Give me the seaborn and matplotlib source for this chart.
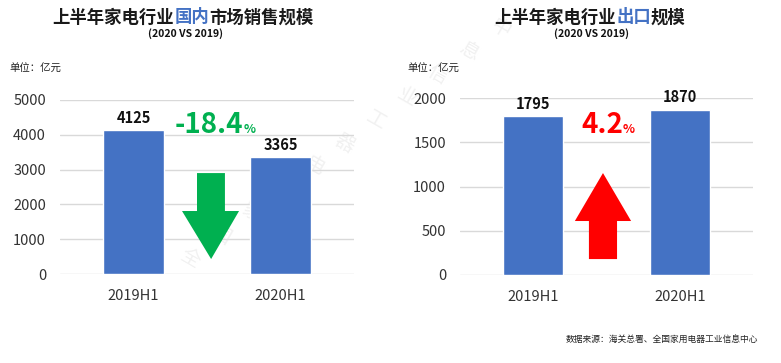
import matplotlib
matplotlib.use('Agg')
import matplotlib.pyplot as plt
import seaborn as sns
import pandas as pd
from matplotlib.patches import Polygon

# ---- data ----
periods = ['2019H1', '2020H1']
domestic_sales = [4125, 3365]
export_sales = [1795, 1870]
domestic_change = '-18.4'
export_change = '4.2'
left_ticks = [0, 1000, 2000, 3000, 4000, 5000]
right_ticks = [0, 500, 1000, 1500, 2000]

title_left = [('上半年家电行业', 'k'), ('国内', '#4472C4'), ('市场销售规模', 'k')]
title_right = [('上半年家电行业', 'k'), ('出口', '#4472C4'), ('规模', 'k')]
subtitle = '(2020 VS 2019)'
unit_text = '单位：亿元'
source_text = '数据来源：海关总署、全国家用电器工业信息中心'
watermark = '全国家用电器工业信息中'

BAR = '#4472C4'
GREEN = '#00B050'
RED = '#FF0000'

sns.set_theme(style='white')
plt.rcParams['font.family'] = ['Noto Sans CJK SC', 'DejaVu Sans']

W, H = 781, 363
fig = plt.figure(figsize=(W / 100, H / 100), dpi=100)
fig.patch.set_facecolor('white')


def fx(px):
    return px / W


def fy(py):
    return 1 - py / H


ax1 = fig.add_axes([fx(60), fy(274), 294 / W, 174 / H])
ax2 = fig.add_axes([fx(460), fy(275), 293 / W, 177 / H])

df1 = pd.DataFrame({'period': periods, 'value': domestic_sales})
df2 = pd.DataFrame({'period': periods, 'value': export_sales})

for ax, df, ticks in [(ax1, df1, left_ticks), (ax2, df2, right_ticks)]:
    ax.set_facecolor('none')
    sns.barplot(data=df, x='period', y='value', color=BAR, width=0.41,
                saturation=1, ax=ax, zorder=3)
    ax.set_xlim(-0.5, 1.5)
    ax.set_ylim(0, ticks[-1])
    ax.set_yticks(ticks)
    ax.yaxis.grid(True, color='#D9D9D9', linewidth=1.0, zorder=0)
    ax.set_axisbelow(True)
    for s in ax.spines.values():
        s.set_visible(False)
    ax.set_xlabel('')
    ax.set_ylabel('')
    ax.tick_params(axis='y', length=0, pad=10, labelsize=10.5, labelcolor='#333333')
    ax.tick_params(axis='x', length=0, pad=11, labelsize=10.5, labelcolor='#333333')
    for c in ax.containers:
        ax.bar_label(c, fmt='%d', padding=3, fontsize=10.5, fontweight='bold',
                     color='#111111')
    for t in ax.texts:
        t.set_clip_on(False)

# ---- arrows ----
down = [(0.466, 0.580), (0.561, 0.580), (0.561, 0.362), (0.609, 0.362),
        (0.514, 0.086), (0.415, 0.362), (0.466, 0.362)]
ax1.add_patch(Polygon(down, closed=True, transform=ax1.transAxes,
                      facecolor=GREEN, edgecolor='none', zorder=4))
up = [(0.440, 0.090), (0.536, 0.090), (0.536, 0.305), (0.584, 0.305),
      (0.488, 0.576), (0.392, 0.305), (0.440, 0.305)]
ax2.add_patch(Polygon(up, closed=True, transform=ax2.transAxes,
                      facecolor=RED, edgecolor='none', zorder=4))

fig.canvas.draw()
renderer = fig.canvas.get_renderer()


def draw_pieces(pieces, x_px, y_px, va='baseline', center=False):
    widths = []
    for txt, props in pieces:
        t = fig.text(0, 0, txt, **props)
        bb = t.get_window_extent(renderer)
        widths.append(bb.width)
        t.remove()
    total = sum(widths)
    x = x_px - total / 2 if center else x_px
    for (txt, props), w in zip(pieces, widths):
        fig.text(fx(x), fy(y_px), txt, ha='left', va=va, **props)
        x += w


# titles
draw_pieces([(t, dict(color=c, fontsize=12.5, fontweight='bold')) for t, c in title_left],
            183, 17.5, va='center', center=True)
draw_pieces([(t, dict(color=c, fontsize=12.5, fontweight='bold')) for t, c in title_right],
            590, 17.5, va='center', center=True)
fig.text(fx(185), fy(33.5), subtitle, ha='center', va='center', fontsize=7.5,
         fontweight='bold', color='#111111')
fig.text(fx(592), fy(33.5), subtitle, ha='center', va='center', fontsize=7.5,
         fontweight='bold', color='#111111')
fig.text(fx(9), fy(69), unit_text, ha='left', va='center', fontsize=7.5, color='#222222')
fig.text(fx(407), fy(69), unit_text, ha='left', va='center', fontsize=7.5, color='#222222')

# percentage changes
draw_pieces([(domestic_change, dict(color=GREEN, fontsize=20, fontweight='bold')),
             ('%', dict(color=GREEN, fontsize=9, fontweight='bold'))], 175, 133)
draw_pieces([(export_change, dict(color=RED, fontsize=20, fontweight='bold')),
             ('%', dict(color=RED, fontsize=9, fontweight='bold'))], 581, 133)

# source
fig.text(fx(758), fy(340), source_text, ha='right', va='center', fontsize=6.3,
         color='#222222')

# faint watermark behind the charts
for i, ch in enumerate(watermark):
    fig.text(fx(190 + 31 * i), fy(258 - 23 * i), ch, ha='center', va='center',
             fontsize=14, color='#F1F1F1', rotation=-30, zorder=-5)

fig.savefig('out.png', dpi=100, facecolor='white')
